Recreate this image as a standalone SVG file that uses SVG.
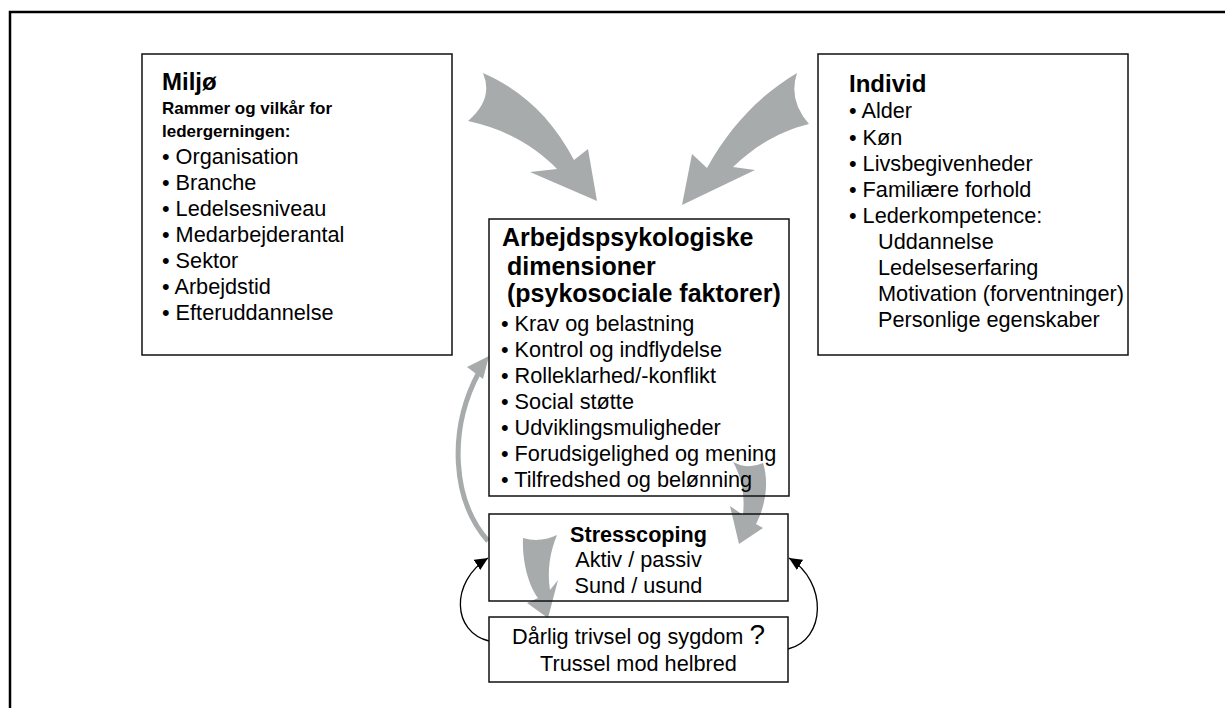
<svg xmlns="http://www.w3.org/2000/svg" width="1225" height="708" viewBox="0 0 1225 708">
  <defs>
    <style>
      .box { fill: none; stroke: #111111; stroke-width: 1.5; }
      .t { font-family: "Liberation Sans", Arial, sans-serif; font-size: 21.7px; fill: #000000; }
      .h { font-family: "Liberation Sans", Arial, sans-serif; font-weight: bold; fill: #000000; }
      .flow { fill: #a7abac; stroke: none; }
      .loop { fill: none; stroke: #000000; stroke-width: 1.3; }
    </style>
    <marker id="blackHead" markerUnits="userSpaceOnUse" markerWidth="14" markerHeight="12" refX="13" refY="6" orient="auto">
      <path d="M0,0 L13,6 L0,12 Z" fill="#000000"/>
    </marker>
  </defs>

  <rect width="1225" height="708" fill="#ffffff"/>
  <!-- outer frame -->
  <rect x="10" y="12" width="1240" height="720" fill="none" stroke="#000000" stroke-width="2.5"/>

  <!-- connectors -->
  <g id="connectors">
    <!-- Miljø -> dimensioner -->
    <path class="flow" d="M483,73 C522,90 552,118 574,160 L588,149 L597,201 L530,172 L557,169 C535,146 505,129 468,121 Q494,99 483,73 Z"/>
    <!-- Individ -> dimensioner -->
    <path class="flow" d="M797,73 C760,95 730,126 707,168 L692,154 L682,205 L755,170 L733,167 C755,146 780,131 809,124 Q788,100 797,73 Z"/>
    <!-- Stresscoping -> dimensioner (feedback) -->
    <path d="M488,541 C452,500 448,430 479,372" fill="none" stroke="#a7abac" stroke-width="5"/>
    <path class="flow" d="M489,356 L467,367 L483,379 Z"/>
    <!-- dimensioner -> Stresscoping -->
    <path class="flow" d="M733,462 Q748,470 763,463 C769,481 766,505 756,524 L763,528 L739,544 L730,506 L743,515 C745,495 742,478 733,462 Z"/>
    <!-- Stresscoping -> Dårlig trivsel -->
    <path class="flow" d="M523,538 Q540,543 557,535 C550,552 547,570 550,590 L558,580 L548,618 L527,603 L538,598 C528,585 522,560 523,538 Z"/>
    <!-- loops between Dårlig trivsel and Stresscoping -->
    <path class="loop" d="M489,641 C452,632 450,582 488,558" marker-end="url(#blackHead)"/>
    <path class="loop" d="M788,649 C826,640 828,582 789,558" marker-end="url(#blackHead)"/>
  </g>

  <!-- Miljø -->
  <g id="miljo">
    <rect class="box" x="142" y="54" width="310" height="301"/>
    <text class="h" x="162" y="90" font-size="24">Miljø</text>
    <text class="h" x="162" y="114" font-size="17">Rammer og vilkår for</text>
    <text class="h" x="162" y="137" font-size="17">ledergerningen:</text>
    <text class="t" x="162" y="164">• Organisation</text>
    <text class="t" x="162" y="190">• Branche</text>
    <text class="t" x="162" y="216">• Ledelsesniveau</text>
    <text class="t" x="162" y="242">• Medarbejderantal</text>
    <text class="t" x="162" y="268">• Sektor</text>
    <text class="t" x="162" y="294">• Arbejdstid</text>
    <text class="t" x="162" y="320">• Efteruddannelse</text>
  </g>

  <!-- Individ -->
  <g id="individ">
    <rect class="box" x="818" y="54" width="310" height="301"/>
    <text class="h" x="849" y="92" font-size="24">Individ</text>
    <text class="t" x="849" y="118">• Alder</text>
    <text class="t" x="849" y="145">• Køn</text>
    <text class="t" x="849" y="171">• Livsbegivenheder</text>
    <text class="t" x="849" y="197">• Familiære forhold</text>
    <text class="t" x="849" y="223">• Lederkompetence:</text>
    <text class="t" x="878" y="249">Uddannelse</text>
    <text class="t" x="878" y="275">Ledelseserfaring</text>
    <text class="t" x="878" y="301">Motivation (forventninger)</text>
    <text class="t" x="878" y="327">Personlige egenskaber</text>
  </g>

  <!-- Arbejdspsykologiske dimensioner -->
  <g id="dimensioner">
    <rect class="box" x="489" y="219" width="300" height="277"/>
    <text class="h" x="502" y="246" font-size="25">Arbejdspsykologiske</text>
    <text class="h" x="507" y="275" font-size="25">dimensioner</text>
    <text class="h" x="507" y="302" font-size="25">(psykosociale faktorer)</text>
    <text class="t" x="501" y="331">• Krav og belastning</text>
    <text class="t" x="501" y="357">• Kontrol og indflydelse</text>
    <text class="t" x="501" y="383">• Rolleklarhed/-konflikt</text>
    <text class="t" x="501" y="409">• Social støtte</text>
    <text class="t" x="501" y="435">• Udviklingsmuligheder</text>
    <text class="t" x="501" y="461">• Forudsigelighed og mening</text>
    <text class="t" x="501" y="487">• Tilfredshed og belønning</text>
  </g>

  <!-- Stresscoping -->
  <g id="stresscoping">
    <rect class="box" x="489" y="514" width="299" height="87"/>
    <text class="h" x="638.5" y="542" font-size="21.6" text-anchor="middle">Stresscoping</text>
    <text class="t" x="638.5" y="567" text-anchor="middle">Aktiv / passiv</text>
    <text class="t" x="638.5" y="593" text-anchor="middle">Sund / usund</text>
  </g>

  <!-- Dårlig trivsel og sygdom -->
  <g id="trivsel">
    <rect class="box" x="489" y="617" width="299" height="65"/>
    <text class="t" x="638.5" y="644" text-anchor="middle">Dårlig trivsel og sygdom <tspan font-size="28">?</tspan></text>
    <text class="t" x="638.5" y="671" text-anchor="middle">Trussel mod helbred</text>
  </g>
</svg>
